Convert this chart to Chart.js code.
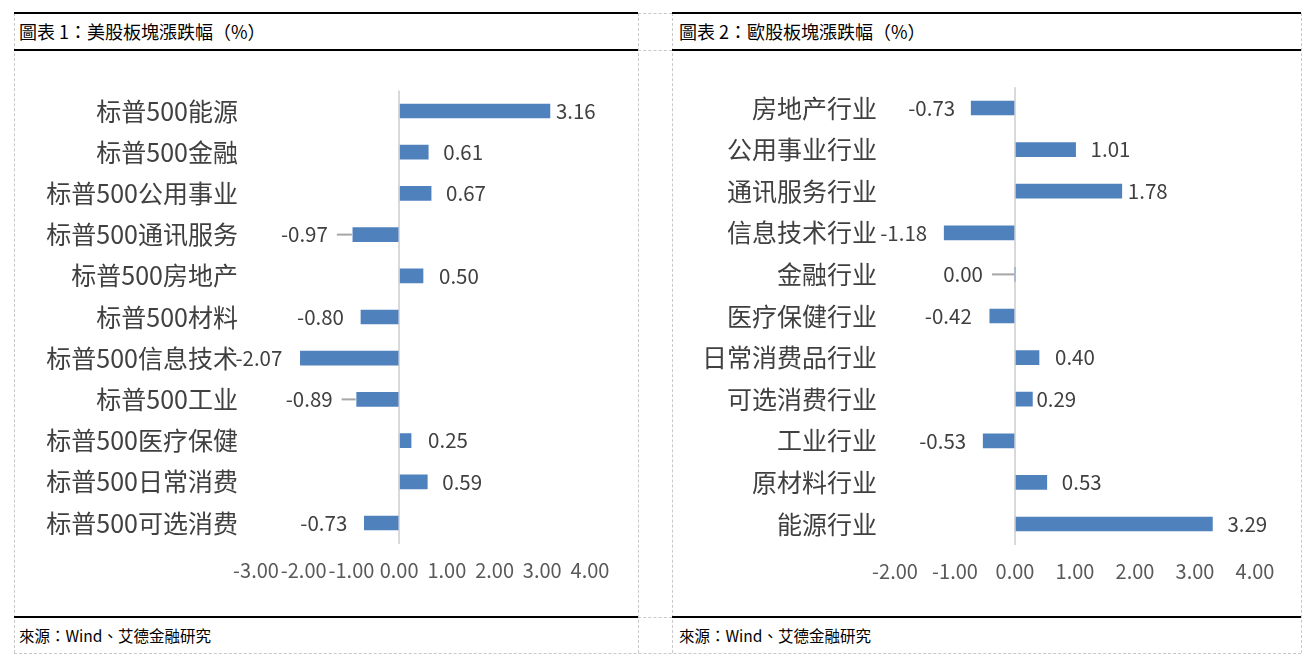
<!DOCTYPE html>
<html>
<head>
<meta charset="utf-8">
<script src="https://cdn.jsdelivr.net/npm/chart.js@4"></script>
<style>
  html, body { margin:0; padding:0; background:#fff; width:1316px; height:665px; overflow:hidden; }
  .hline { position:absolute; height:0; border-top:2px solid #000; }
  .dh { position:absolute; height:0; border-top:1px dashed #c8c8c8; }
  .dv { position:absolute; width:0; border-left:1px dashed #c8c8c8; }
  .title, .src { position:absolute; font-family:"Noto Sans CJK TC","Noto Sans CJK SC",sans-serif; color:#000; white-space:nowrap; }
  .title { font-size:18px; line-height:22px; }
  .src { font-size:15.5px; line-height:20px; }
  canvas { position:absolute; }
</style>
</head>
<body>
<!-- dashed frame -->
<div class="dv" style="left:14px;top:13px;height:640px"></div>
<div class="dv" style="left:638px;top:13px;height:640px"></div>
<div class="dv" style="left:672px;top:13px;height:640px"></div>
<div class="dv" style="left:1301px;top:13px;height:640px"></div>
<div class="dh" style="left:14px;top:653px;width:1287px"></div>
<div class="dh" style="left:638px;top:13px;width:34px"></div>
<div class="dh" style="left:638px;top:50px;width:34px"></div>
<div class="dh" style="left:638px;top:617px;width:34px"></div>
<!-- solid lines -->
<div class="hline" style="left:14px;top:12px;width:624px"></div>
<div class="hline" style="left:14px;top:49px;width:624px"></div>
<div class="hline" style="left:14px;top:616px;width:624px"></div>
<div class="hline" style="left:672px;top:12px;width:629px"></div>
<div class="hline" style="left:672px;top:49px;width:629px"></div>
<div class="hline" style="left:672px;top:616px;width:629px"></div>

<div class="title" style="left:19px;top:20px">圖表 1：美股板塊漲跌幅（%）</div>
<div class="title" style="left:679px;top:20px">圖表 2：歐股板塊漲跌幅（%）</div>
<div class="src" style="left:19px;top:625px">來源：Wind、艾德金融研究</div>
<div class="src" style="left:679px;top:625px">來源：Wind、艾德金融研究</div>

<canvas id="c1" width="624" height="567" style="left:14px;top:50px"></canvas>
<canvas id="c2" width="629" height="567" style="left:672px;top:50px"></canvas>

<script>
// ---- data ----
const usCategories = ["标普500能源","标普500金融","标普500公用事业","标普500通讯服务","标普500房地产","标普500材料","标普500信息技术","标普500工业","标普500医疗保健","标普500日常消费","标普500可选消费"];
const usValues = [3.16, 0.61, 0.67, -0.97, 0.50, -0.80, -2.07, -0.89, 0.25, 0.59, -0.73];
const usTicks = [-3, -2, -1, 0, 1, 2, 3, 4];

const euCategories = ["房地产行业","公用事业行业","通讯服务行业","信息技术行业","金融行业","医疗保健行业","日常消费品行业","可选消费行业","工业行业","原材料行业","能源行业"];
const euValues = [-0.73, 1.01, 1.78, -1.18, 0.00, -0.42, 0.40, 0.29, -0.53, 0.53, 3.29];
const euTicks = [-2, -1, 0, 1, 2, 3, 4];

// ---- label plugin ----
const barLabels = {
  id: 'barLabels',
  afterDatasetsDraw(chart, args, opts) {
    const ctx = chart.ctx;
    const meta = chart.getDatasetMeta(0);
    const data = chart.data.datasets[0].data;
    ctx.save();
    ctx.font = '20.5px "Noto Sans CJK SC", "Noto Sans", sans-serif';
    ctx.fillStyle = '#404040';
    ctx.textBaseline = 'middle';
    meta.data.forEach((el, i) => {
      const v = data[i];
      const gap = opts.gaps[i];
      const txt = v.toFixed(2);
      if (v > 0) {
        ctx.textAlign = 'left';
        ctx.fillText(txt, el.x + gap, el.y);
      } else {
        ctx.textAlign = 'right';
        const tx = el.x - gap;
        ctx.fillText(txt, tx, el.y);
        if (opts.leaders[i]) {
          ctx.strokeStyle = '#a6a6a6';
          ctx.lineWidth = 2;
          ctx.beginPath();
          ctx.moveTo(tx + 9, el.y);
          ctx.lineTo(el.x - 1, el.y);
          ctx.stroke();
        }
      }
    });
    ctx.restore();
  }
};

function makeChart(id, cats, vals, ticks, yWidth, padTop, padRight, padBottom, gaps, leaders) {
  return new Chart(document.getElementById(id), {
    type: 'bar',
    data: { labels: cats, datasets: [{ data: vals, backgroundColor: '#4F81BD', barThickness: 14 }] },
    plugins: [barLabels],
    options: {
      indexAxis: 'y',
      responsive: false,
      animation: false,
      layout: { padding: { left: 0, top: padTop, right: padRight, bottom: padBottom } },
      plugins: { legend: { display: false }, tooltip: { enabled: false }, barLabels: { gaps, leaders } },
      scales: {
        x: {
          min: ticks[0], max: ticks[ticks.length - 1],
          afterBuildTicks: (s) => { s.ticks = ticks.map(v => ({ value: v })); },
          afterFit: (s) => { s.height = 50; },
          ticks: { callback: (v) => Number(v).toFixed(2), color: '#595959', padding: 15,
                   font: { family: '"Noto Sans CJK SC", "Noto Sans", sans-serif', size: 20 }, maxRotation: 0, autoSkip: false },
          grid: { drawTicks: false, color: (c) => (c.tick && c.tick.value === 0) ? '#d9d9d9' : 'rgba(0,0,0,0)', lineWidth: 2 },
          border: { display: false }
        },
        y: {
          afterFit: (s) => { s.width = yWidth; },
          ticks: { color: '#404040', padding: 10, font: { family: '"Noto Sans CJK SC", sans-serif', size: 25 } },
          grid: { display: false },
          border: { display: false }
        }
      }
    }
  });
}

makeChart('c1', usCategories, usValues, usTicks, 242, 40.4, 48, 23.4,
  [6, 15, 15, 25, 16, 17, 18, 24, 17, 15, 17],
  [false, false, false, true, false, false, false, true, false, false, false]);
makeChart('c2', euCategories, euValues, euTicks, 223, 37.2, 46, 22.2,
  [16, 15, 6, 17, 32, 18, 16, 4, 17, 15, 15],
  [false, false, false, false, true, false, false, false, false, false, false]);
</script>
</body>
</html>
